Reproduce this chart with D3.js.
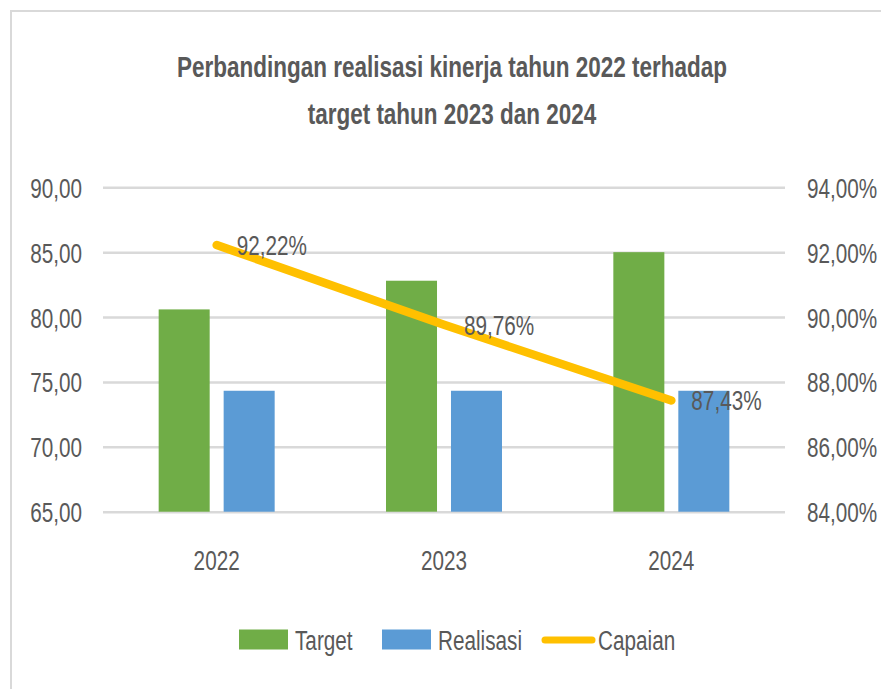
<!DOCTYPE html>
<html>
<head>
<meta charset="utf-8">
<script src="https://cdn.jsdelivr.net/npm/d3@7"></script>
<style>
  html, body { margin: 0; padding: 0; background: #ffffff; }
  svg { display: block; }
  text { font-family: "Liberation Sans", Arial, sans-serif; fill: #595959; }
</style>
</head>
<body>
<svg id="chart" width="881" height="689"></svg>
<script>
// ---------- DATA ----------
const years = ["2022", "2023", "2024"];
const target = [80.59, 82.80, 85.00];
const realisasi = [74.32, 74.32, 74.32];
const capaian = [0.9222, 0.8976, 0.8743];
const leftTicks = [65, 70, 75, 80, 85, 90];
const rightTicks = [0.84, 0.86, 0.88, 0.90, 0.92, 0.94];
const seriesNames = ["Target", "Realisasi", "Capaian"];
const titleLines = ["Perbandingan realisasi kinerja tahun 2022 terhadap", "target tahun 2023 dan 2024"];

// ---------- LAYOUT / STYLE ----------
const colors = { Target: "#70AD47", Realisasi: "#5B9BD5", Capaian: "#FFC000" };
const plot = { left: 103, right: 785, top: 187.3, bottom: 511.7 };
const SX = 0.74;      // horizontal compression for regular text
const SX_T = 0.75;    // for title
const FS = 28;

const loc = d3.formatLocale({ decimal: ",", thousands: ".", grouping: [3], currency: ["", ""] });
const fmtL = loc.format(".2f");
const fmtR = loc.format(".2%");

const svg = d3.select("#chart");

// background + frame
svg.append("rect").attr("x", 0).attr("y", 0).attr("width", 881).attr("height", 689).attr("fill", "#fff");
svg.append("rect").attr("x", 11).attr("y", 11).attr("width", 900).attr("height", 700)
  .attr("fill", "none").attr("stroke", "#d9d9d9").attr("stroke-width", 2);

// scales
const x0 = d3.scaleBand().domain(years).range([plot.left, plot.right]).padding(0);
const x1 = d3.scaleBand().domain(["Target", "Realisasi"]).range([-58, 58]).paddingInner(0.215).paddingOuter(0);
const yL = d3.scaleLinear().domain([65, 90]).range([plot.bottom, plot.top]);
const yR = d3.scaleLinear().domain([0.84, 0.94]).range([plot.bottom, plot.top]);
const cx = d => x0(d) + x0.bandwidth() / 2;

// helper: compressed text
function ctext(g, x, y, str, opts = {}) {
  const sx = opts.sx || SX;
  return g.append("text")
    .attr("transform", `translate(${x},${y}) scale(${sx},1)`)
    .attr("text-anchor", opts.anchor || "start")
    .attr("font-size", opts.size || FS)
    .attr("font-weight", opts.weight || "normal")
    .text(str);
}

// title
titleLines.forEach((line, i) => {
  ctext(svg, 452, 77 + i * 47, line, { anchor: "middle", size: 30, weight: "bold", sx: SX_T });
});

// left axis with gridlines
const gL = svg.append("g").attr("transform", `translate(${plot.left},0)`)
  .call(d3.axisLeft(yL).tickValues(leftTicks).tickFormat(fmtL)
    .tickSize(-(plot.right - plot.left)).tickPadding(21));
gL.select(".domain").remove();
gL.selectAll(".tick line").attr("stroke", "#d9d9d9").attr("stroke-width", 2.4);
gL.selectAll(".tick text")
  .attr("font-size", FS).attr("fill", "#595959")
  .attr("x", null).attr("dy", null)
  .attr("transform", `translate(-21,10) scale(${SX},1)`);

// right axis
const gR = svg.append("g").attr("transform", `translate(${plot.right},0)`)
  .call(d3.axisRight(yR).tickValues(rightTicks).tickFormat(fmtR).tickSize(0).tickPadding(22));
gR.select(".domain").remove();
gR.selectAll(".tick text")
  .attr("font-size", FS).attr("fill", "#595959")
  .attr("x", null).attr("dy", null)
  .attr("transform", `translate(22,10) scale(${SX},1)`);

// x axis labels
const gX = svg.append("g").attr("transform", `translate(0,${plot.bottom})`)
  .call(d3.axisBottom(x0).tickSize(0));
gX.select(".domain").remove();
gX.selectAll(".tick text")
  .attr("font-size", FS).attr("fill", "#595959")
  .attr("y", null).attr("dy", null)
  .attr("transform", `translate(0,58) scale(${SX},1)`);

// bars
const rows = years.map((y, i) => ({ year: y, Target: target[i], Realisasi: realisasi[i] }));
const gBars = svg.append("g");
rows.forEach(r => {
  ["Target", "Realisasi"].forEach(k => {
    gBars.append("rect")
      .attr("x", cx(r.year) + x1(k))
      .attr("y", yL(r[k]))
      .attr("width", x1.bandwidth())
      .attr("height", yL(65) - yL(r[k]))
      .attr("fill", colors[k]);
  });
});

// line
const lineData = years.map((y, i) => ({ year: y, v: capaian[i] }));
svg.append("path").datum(lineData)
  .attr("fill", "none").attr("stroke", colors.Capaian).attr("stroke-width", 8.5)
  .attr("stroke-linecap", "round").attr("stroke-linejoin", "round")
  .attr("d", d3.line().x(d => cx(d.year)).y(d => yR(d.v)));

// data labels
lineData.forEach(d => {
  ctext(svg, cx(d.year) + 20, yR(d.v) + 10, fmtR(d.v), { anchor: "start" });
});

// legend
const gLeg = svg.append("g");
const legItems = [
  { name: "Target", x: 239, type: "rect" },
  { name: "Realisasi", x: 382, type: "rect" },
  { name: "Capaian", x: 542, type: "line" }
];
legItems.forEach(it => {
  if (it.type === "rect") {
    gLeg.append("rect").attr("x", it.x).attr("y", 629.5).attr("width", 49).attr("height", 20).attr("fill", colors[it.name]);
  } else {
    gLeg.append("line").attr("x1", it.x + 3).attr("x2", it.x + 50).attr("y1", 640).attr("y2", 640)
      .attr("stroke", colors[it.name]).attr("stroke-width", 7).attr("stroke-linecap", "round");
  }
  ctext(gLeg, it.x + 56, 650, it.name, { anchor: "start" });
});
</script>
</body>
</html>
